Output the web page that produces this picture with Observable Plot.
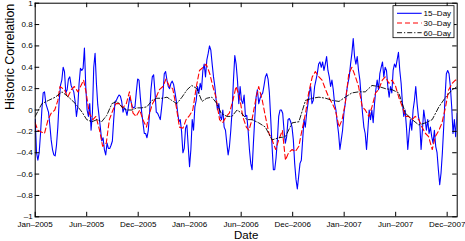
<!DOCTYPE html>
<html><head><meta charset="utf-8">
<script src="https://cdn.jsdelivr.net/npm/d3@7"></script>
<script src="https://cdn.jsdelivr.net/npm/@observablehq/plot@0.6"></script>
<style>body{margin:0;background:#fff} svg{display:block}</style>
</head><body><div id="chart"></div>
<script>
const seriesNames = ["15–Day", "30–Day", "60–Day"];
const xTickDays = [0, 100, 200, 300, 400, 500, 600, 700, 800];
const xTickLabels = ["Jan–2005", "Jun–2005", "Dec–2005", "Jan–2006", "Jun–2006", "Dec–2006", "Jan–2007", "Jun–2007", "Dec–2007"];
const yTicks = [-1, -0.8, -0.6, -0.4, -0.2, 0, 0.2, 0.4, 0.6, 0.8, 1];

// 15-day correlation, sampled about every 2.58 trading days
const step15 = 2.584;
const corr15 = [
-0.09,-0.40,-0.47,-0.40,-0.22,0,0.16,0.17,0.06,0.02,
-0.02,-0.14,-0.28,-0.37,-0.42,-0.43,-0.33,-0.16,0.08,0.23,
0.28,0.40,0.36,0.16,0.19,0.29,0.31,0.23,0.20,0.17,
0.08,-0.06,0.03,0.25,0.39,0.37,0.39,0.58,0.22,0,
-0.06,0.06,-0.19,-0.03,0.40,0.53,0.25,0.05,-0.06,-0.17,
-0.29,-0.26,-0.37,-0.42,-0.31,-0.36,-0.36,-0.33,-0.29,-0.09,
0.08,0.09,0.12,0.14,0.13,0.08,-0.02,0.02,0,-0.05,
0.03,0.12,0.08,0.03,0.02,0.03,0.17,0.29,0.28,0.12,
-0.02,-0.12,-0.22,-0.22,-0.26,-0.19,-0.02,0.19,0.31,0.33,
0.17,-0.02,-0.03,-0.06,-0.09,0.02,0.14,0.34,0.36,0.28,
0.22,0.20,0.25,0.27,0.24,0.17,0.09,-0.02,-0.11,-0.09,
-0.20,-0.40,-0.36,-0.17,-0.14,-0.34,-0.53,-0.37,-0.09,-0.19,
0.03,0.09,0.22,0.16,0.25,0.19,0.37,0.43,0.31,0.47,
0.53,0.60,0.56,0.43,0.31,0.22,0.09,0,0.06,-0.06,
-0.09,0,-0.16,-0.19,-0.31,-0.42,-0.34,-0.19,0,0.28,
0.51,0.43,0.28,0.06,0.22,0.09,0.06,0.14,-0.06,
-0.05,-0.19,-0.37,-0.50,-0.56,-0.31,-0.08,0.12,0.19,0.06,
0.11,0.14,0.16,0.23,0.31,0.34,0.29,0.16,-0.08,-0.34,
-0.56,-0.56,-0.45,-0.28,-0.06,0,0,-0.03,-0.19,-0.31,
-0.25,-0.09,-0.08,-0.11,-0.16,-0.28,-0.50,-0.65,-0.74,-0.62,
-0.50,-0.47,-0.28,-0.09,-0.16,-0.03,0.06,0.16,0.22,0.06,
0.09,0.22,0.28,0.34,0.43,0.45,0.40,0.45,0.37,0.43,
0.50,0.37,0.31,0.22,0.28,0.19,0.06,0,-0.12,-0.22,
-0.37,-0.28,-0.19,-0.03,0.06,0.17,0.25,0.31,0.43,0.53,
0.67,0.50,0.43,0.50,0.37,0.28,0.12,-0.03,-0.16,-0.22,
-0.37,-0.19,0,-0.09,0,-0.12,0.06,0.19,0.28,0.19,
0.34,0.40,0.45,0.31,0.40,0.37,0.22,0.12,0.22,0.16,
0.37,0.43,0.40,0.47,0.54,0.37,0.25,0.06,-0.06,0,
-0.16,-0.37,-0.22,-0.09,-0.19,0,0.09,0.22,0.06,-0.06,
-0.12,-0.37,-0.19,0,-0.09,-0.19,-0.09,-0.22,-0.16,-0.25,
-0.31,-0.19,-0.34,-0.40,-0.56,-0.70,-0.59,-0.40,-0.16,0.12,
0.34,0.37,0.34,0.22,0.03,-0.22,-0.09,-0.25,-0.03
];

const days30 = [0,5,18,25,31,38,44,48,57,63,70,76,83,89,94,99,105,112,118,125,131,138,144,151,157,164,170,177,183,190,196,203,209,216,222,228,235,241,248,254,261,267,274,280,287,293,300,306,313,319,326,332,339,345,351,358,364,371,377,384,390,397,403,410,
415,421,428,434,441,447,454,460,467,473,480,486,492,499,505,512,518,525,531,538,544,551,557,564,570,577,583,590,596,602,609,615,622,628,635,641,648,654,661,667,674,680,687,693,700,706,713,719,725,732,738,745,751,758,764,771,777,784,790,797,803,810,816,820];
const corr30 = [-0.12,-0.19,-0.22,-0.09,-0.03,0,0.09,0.22,0.19,0.12,0.19,0.22,0.17,0.23,0.28,0.16,-0.03,-0.09,-0.06,-0.19,-0.34,-0.31,-0.09,0,0.06,0.06,0.02,0.06,0.17,-0.03,-0.06,0,-0.09,-0.16,-0.03,0.06,0.12,0.19,0.22,0.29,0.22,0.20,0.03,-0.16,-0.17,-0.09,-0.05,0,0.22,0.37,0.40,0.43,0.34,0.22,0.12,-0.09,-0.12,-0.06,-0.03,0.09,0.22,0.12,-0.06,-0.16,
-0.19,-0.09,0.09,0.22,0.09,-0.06,-0.22,-0.28,-0.37,-0.28,-0.19,-0.47,-0.40,-0.37,-0.39,-0.34,-0.19,-0.03,0.16,0.31,0.36,0.31,0.28,0.19,0.12,0.06,0,-0.16,-0.09,0.06,0.34,0.40,0.31,0.22,0.03,0,-0.06,0.03,0.16,0.19,0.28,0.31,0.25,0.28,0.22,0.12,0.03,-0.06,-0.06,-0.09,-0.06,-0.09,-0.16,-0.22,-0.25,-0.37,-0.25,-0.19,-0.12,0.03,0.19,0.25,0.28,0.28];

const days60 = [0,13,26,39,52,65,78,91,100,110,120,129,139,149,159,168,178,188,197,207,217,227,236,246,256,265,275,285,295,304,314,324,333,343,353,361,372,382,392,401,411,
421,434,447,460,473,486,499,512,525,538,551,564,577,590,602,615,628,641,654,667,680,693,706,719,732,745,758,771,784,797,810,820];
const corr60 = [-0.06,0.06,0.09,0.12,0.17,0.12,0.06,-0.02,-0.09,-0.11,-0.09,-0.11,-0.05,0.06,0.08,0.03,0,0,0.02,0.02,0.03,0.09,0.11,0.11,0.12,0.09,0.06,0.12,0.19,0.23,0.20,0.08,0.11,0.12,0.06,-0.03,-0.06,-0.06,0,-0.03,-0.09,
-0.09,-0.12,-0.16,-0.28,-0.26,-0.25,-0.12,-0.11,0.09,0.11,0.12,0.11,0.09,0.08,0.12,0.16,0.17,0.17,0.23,0.22,0.20,0.19,0.16,-0.03,-0.09,-0.14,-0.12,-0.09,0.03,0.12,0.19,0.22];

const d15 = corr15.map((v, i) => ({day: i * step15, v}));
const d30 = corr30.map((v, i) => ({day: days30[i], v}));
const d60 = corr60.map((v, i) => ({day: days60[i], v}));

const W = 465, H = 241, mL = 34.7, mR = 8.3, mT = 2.7, mB = 24.7;
const ph = H - mT - mB, pw = W - mL - mR, tick = 4.5;
const fmtY = d => d === 0 ? "0" : (d < 0 ? "–" : "") + (+Math.abs(d).toFixed(1));
const colors = ["#0000ff", "#ff0000", "#000000"];
const dashes = [null, "5,3", "5,2,1.2,2"];

const chart = Plot.plot({
  width: W, height: H,
  marginLeft: mL, marginRight: mR, marginTop: mT, marginBottom: mB,
  style: {fontFamily: "'Liberation Sans', Arial, sans-serif", fontSize: "8px", background: "#fff", color: "#000", overflow: "visible"},
  x: {domain: [0, 819.5]},
  y: {domain: [-1, 1]},
  marks: [
    Plot.line(d15, {x: "day", y: "v", stroke: colors[0], strokeWidth: 1.1, clip: true}),
    Plot.line(d30, {x: "day", y: "v", stroke: colors[1], strokeWidth: 1.1, strokeDasharray: dashes[1], clip: true}),
    Plot.line(d60, {x: "day", y: "v", stroke: colors[2], strokeWidth: 0.9, strokeDasharray: dashes[2], clip: true}),
    Plot.ruleX(xTickDays, {x: d => d, insetTop: ph - tick, stroke: "#000"}),
    Plot.ruleX(xTickDays, {x: d => d, insetBottom: ph - tick, stroke: "#000"}),
    Plot.ruleY(yTicks, {y: d => d, insetRight: pw - tick, stroke: "#000"}),
    Plot.ruleY(yTicks, {y: d => d, insetLeft: pw - tick, stroke: "#000"}),
    Plot.frame({stroke: "#000", strokeWidth: 1}),
    Plot.axisX(xTickDays, {tickSize: 0, tickPadding: 5, tickFormat: d => xTickLabels[xTickDays.indexOf(d)], label: null, fontSize: 8}),
    Plot.axisY(yTicks, {tickSize: 0, tickPadding: 2.5, tickFormat: fmtY, label: null, fontSize: 8}),
    Plot.text(["Date"], {frameAnchor: "bottom", lineAnchor: "bottom", dy: 22, fontSize: 11.5}),
    Plot.text(["Historic Correlation"], {frameAnchor: "left", lineAnchor: "bottom", rotate: -90, dx: -21.2, fontSize: 12.5})
  ]
});
document.getElementById("chart").append(chart);

// legend box (top right, inside the axes)
const svg = d3.select(chart);
const lg = svg.append("g").attr("font-family", "'Liberation Sans', Arial, sans-serif")
  .attr("font-size", 8).attr("text-anchor", "start");
lg.append("rect").attr("x", 393).attr("y", 5.7).attr("width", 61).attr("height", 32)
  .attr("fill", "#fff").attr("stroke", "#000").attr("stroke-width", 0.8);
seriesNames.forEach((name, i) => {
  const y = 13.3 + i * 9.7;
  lg.append("line").attr("x1", 397).attr("x2", 421.7).attr("y1", y).attr("y2", y)
    .attr("stroke", colors[i]).attr("stroke-width", i === 2 ? 0.9 : 1.1)
    .attr("stroke-dasharray", dashes[i]);
  lg.append("text").attr("x", 423.5).attr("y", y + 2.9).attr("text-anchor", "start").text(name);
});
</script>
</body></html>
